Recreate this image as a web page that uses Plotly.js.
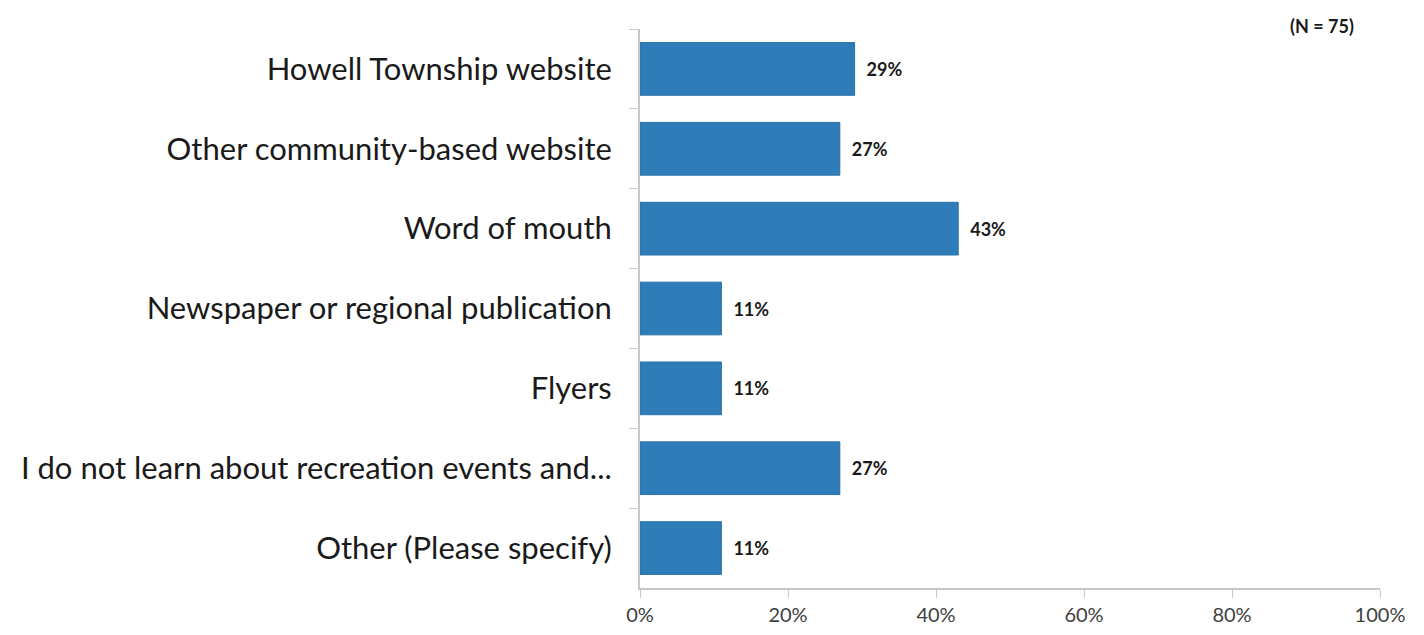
<!DOCTYPE html>
<html>
<head>
<meta charset="utf-8">
<script src="https://cdn.plot.ly/plotly-3.0.1.min.js"></script>
<style>html,body{margin:0;padding:0;background:#fff;}#chart{width:1424px;height:635px;}</style>
</head>
<body>
<div id="chart"></div>
<script>
const categories = [
  "Howell Township website",
  "Other community-based website",
  "Word of mouth",
  "Newspaper or regional publication",
  "Flyers",
  "I do not learn about recreation events and...",
  "Other (Please specify)"
];
const values = [29, 27, 43, 11, 11, 27, 11];
const valueLabels = ["29%", "27%", "43%", "11%", "11%", "27%", "11%"];
const xTickVals = [0, 20, 40, 60, 80, 100];
const xTickText = ["0%", "20%", "40%", "60%", "80%", "100%"];
const sampleNote = "(N = 75)";

const trace = {
  type: "bar",
  orientation: "h",
  y: categories,
  x: values,
  text: valueLabels,
  texttemplate: "\u2002%{text}",
  textposition: "outside",
  cliponaxis: false,
  textfont: {family: "Lato, 'Open Sans', sans-serif", size: 18, color: "#1a1a1a", weight: "bold"},
  marker: {color: "#2e7db9", line: {color: "#2a70a6", width: 1}},
  hoverinfo: "skip"
};

const layout = {
  width: 1424, height: 635,
  margin: {l: 640, r: 44, t: 29, b: 47},
  paper_bgcolor: "#ffffff",
  plot_bgcolor: "#ffffff",
  showlegend: false,
  bargap: 0.34,
  font: {family: "Lato, 'Open Sans', sans-serif"},
  xaxis: {
    range: [0, 100],
    tickvals: xTickVals,
    ticktext: xTickText,
    showgrid: false,
    zeroline: false,
    showline: true,
    linecolor: "#c8c8c8",
    linewidth: 2,
    ticks: "outside",
    ticklen: 8,
    tickcolor: "#c8c8c8",
    tickfont: {size: 20, color: "#404040"},
    fixedrange: true
  },
  yaxis: {
    autorange: "reversed",
    type: "category",
    showgrid: false,
    zeroline: false,
    showline: true,
    linecolor: "#c8c8c8",
    linewidth: 2,
    ticks: "outside",
    tickson: "boundaries",
    ticklen: 9,
    tickcolor: "#c8c8c8",
    ticklabelstandoff: 20,
    tickfont: {size: 31, color: "#1a1a1a"},
    fixedrange: true
  },
  annotations: [{
    text: sampleNote,
    xref: "paper", yref: "paper",
    x: 0.922, y: 1.0, xanchor: "center", yanchor: "bottom",
    yshift: -10,
    showarrow: false,
    font: {size: 18, color: "#1a1a1a", weight: "bold"}
  }]
};

Plotly.newPlot("chart", [trace], layout, {displayModeBar: false, staticPlot: true});
</script>
</body>
</html>
